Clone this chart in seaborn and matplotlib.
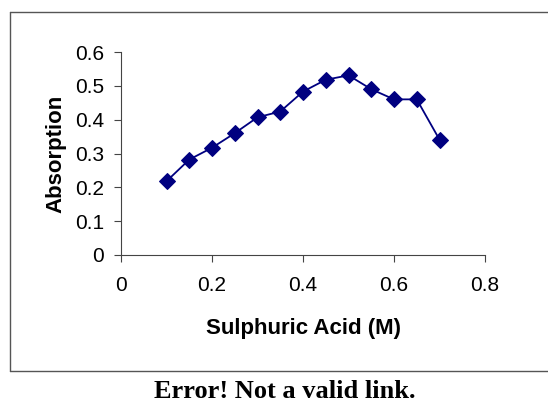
import matplotlib
matplotlib.use("Agg")
import matplotlib.pyplot as plt
import seaborn as sns
import pandas as pd
from matplotlib.lines import Line2D

acid = [0.10, 0.15, 0.20, 0.25, 0.30, 0.35, 0.40, 0.45, 0.50, 0.55, 0.60, 0.65, 0.70]
absorption = [0.218, 0.282, 0.317, 0.360, 0.407, 0.424, 0.483, 0.518, 0.531, 0.490, 0.460, 0.460, 0.341]
x_ticks = [0, 0.2, 0.4, 0.6, 0.8]
x_tick_labels = ["0", "0.2", "0.4", "0.6", "0.8"]
y_ticks = [0, 0.1, 0.2, 0.3, 0.4, 0.5, 0.6]
y_tick_labels = ["0", "0.1", "0.2", "0.3", "0.4", "0.5", "0.6"]

df = pd.DataFrame({"acid": acid, "absorption": absorption})

sns.set_style("white")
plt.rcParams["font.family"] = ["Liberation Sans", "DejaVu Sans"]
plt.rcParams["text.color"] = "black"
plt.rcParams["axes.labelcolor"] = "black"
plt.rcParams["xtick.color"] = "black"
plt.rcParams["ytick.color"] = "black"

fig = plt.figure(figsize=(5.48, 4.09), dpi=100)
ax = fig.add_axes([121/548, 1 - 255/409, (485-121)/548, (255-52)/409])

sns.lineplot(data=df, x="acid", y="absorption", ax=ax, color="#000080",
             marker="D", markersize=8, markeredgecolor="#000080",
             linewidth=1.3)

ax.set_xlim(0, 0.8)
ax.set_ylim(0, 0.6)
ax.set_xticks(x_ticks)
ax.set_xticklabels(x_tick_labels)
ax.set_yticks(y_ticks)
ax.set_yticklabels(y_tick_labels)
ax.tick_params(axis="both", labelsize=15, length=5, width=0.8, color="#444444",
               labelcolor="black", direction="out", bottom=True, left=True)
ax.tick_params(axis="y", pad=7)
ax.tick_params(axis="x", pad=10)
for s in ["top", "right"]:
    ax.spines[s].set_visible(False)
for s in ["left", "bottom"]:
    ax.spines[s].set_color("#444444")
    ax.spines[s].set_linewidth(0.8)

ax.set_xlabel("Sulphuric Acid (M)", fontsize=16, fontweight="bold", labelpad=17, color="black")
ax.set_ylabel("Absorption", fontsize=16, fontweight="bold", labelpad=6, color="black")

# outer frame: left, top, bottom edges (right edge lies beyond the image)
fx0, fy0, fy1 = 9.5/548, 1 - 371/409, 1 - 11.5/409
for xs, ys in [([fx0, fx0], [fy0, fy1]), ([fx0, 1.0], [fy1, fy1]), ([fx0, 1.0], [fy0, fy0])]:
    fig.add_artist(Line2D(xs, ys, transform=fig.transFigure, color="#555555", linewidth=1.0))

fig.text(285/548, 1 - 391/409, "Error! Not a valid link.", ha="center", va="center",
         fontsize=19, fontweight="bold", color="black",
         family=["Liberation Serif", "DejaVu Serif"])

fig.savefig("out.png", dpi=100)
